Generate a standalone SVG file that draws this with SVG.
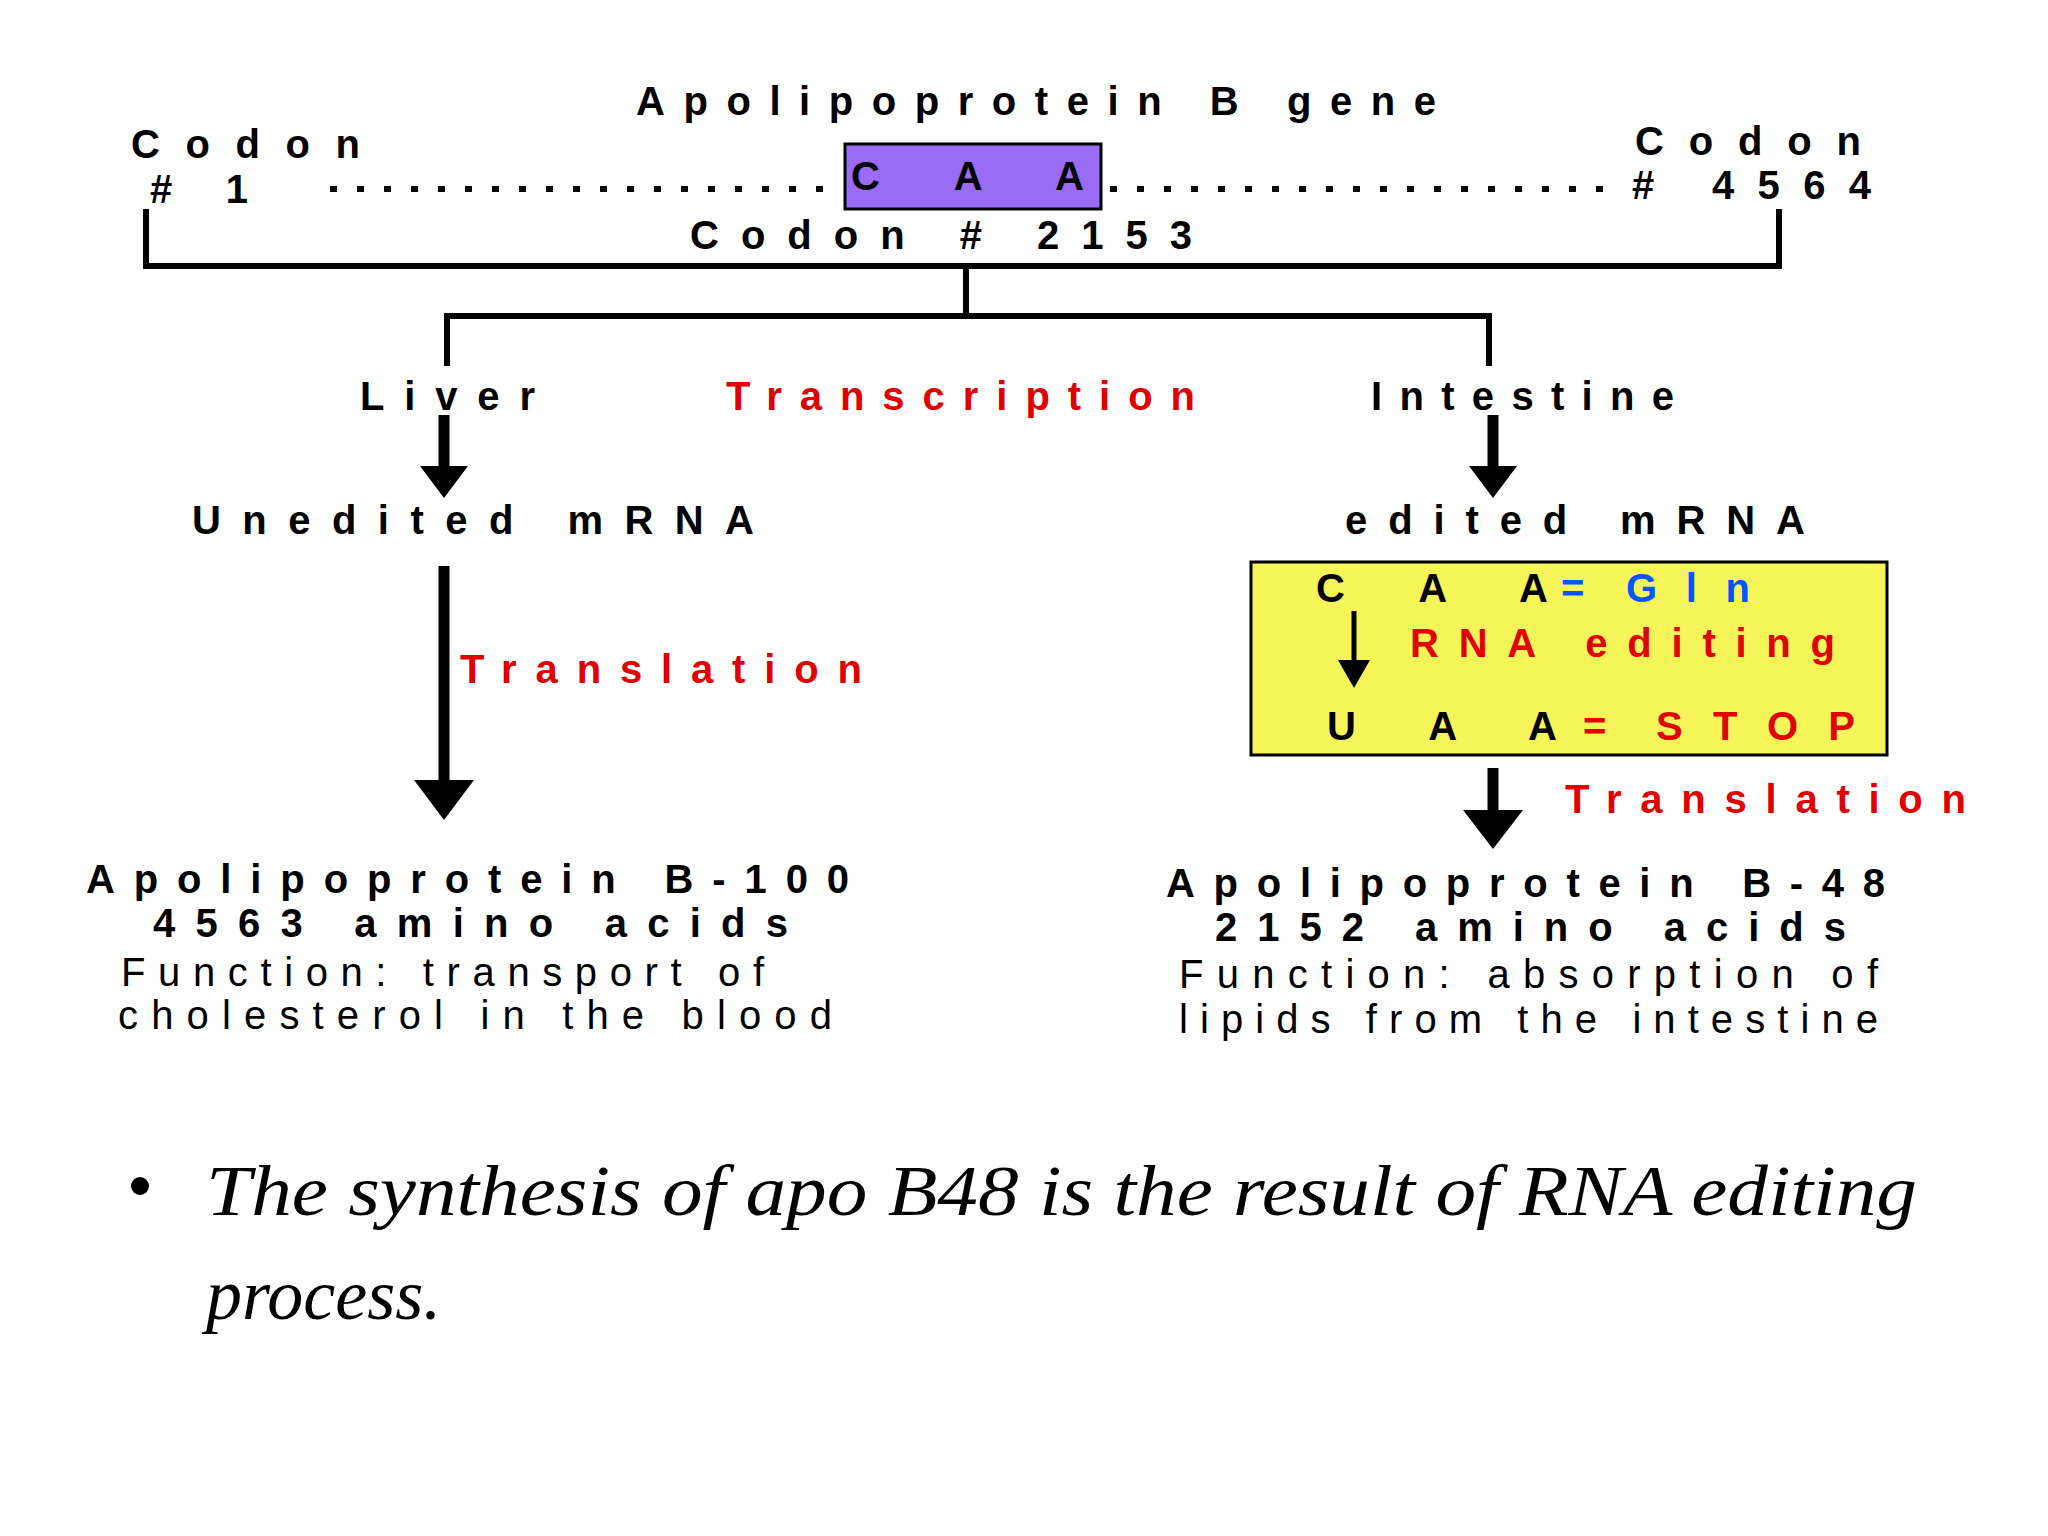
<svg xmlns="http://www.w3.org/2000/svg" width="2048" height="1536" viewBox="0 0 2048 1536">
<style>
.b{font-family:"Liberation Sans",Arial,sans-serif;font-weight:bold;font-size:40px;fill:#000}
.n{font-family:"Liberation Sans",Arial,sans-serif;font-size:40px;fill:#000}
.r{fill:#e00000}
.bl{fill:#0055ff}
.ln{stroke:#000;stroke-width:6;fill:none}
.dot{stroke:#000;stroke-width:6;stroke-dasharray:7 20;fill:none}
.sh{stroke:#000;stroke-width:11}
.it{font-family:"Liberation Serif","Times New Roman",serif;font-style:italic;font-size:72px;fill:#000}
</style>
<rect width="2048" height="1536" fill="#fff"/>
<g id="gene">
<text class="b" x="636" y="115" textLength="800" lengthAdjust="spacing">Apolipoprotein B gene</text>
<text class="b" x="131" y="158" textLength="229" lengthAdjust="spacing">Codon</text>
<text class="b" x="150" y="203" textLength="98" lengthAdjust="spacing"># 1</text>
<line class="dot" x1="330" y1="189" x2="840" y2="189"/>
<line class="dot" x1="1110" y1="189" x2="1620" y2="189"/>
<rect x="845" y="144" width="256" height="65" fill="#9a6cf5" stroke="#000" stroke-width="3"/>
<text class="b" x="851" y="190" textLength="233" lengthAdjust="spacing">C A A</text>
<text class="b" x="1635" y="155" textLength="226" lengthAdjust="spacing">Codon</text>
<text class="b" x="1632" y="199" textLength="239" lengthAdjust="spacing"># 4564</text>
<text class="b" x="690" y="249" textLength="502" lengthAdjust="spacing">Codon # 2153</text>
</g>
<g id="connectors">
<polyline class="ln" points="146,209 146,266 1779,266 1779,209"/>
<line class="ln" x1="966" y1="266" x2="966" y2="316"/>
<polyline class="ln" points="447,366 447,316 1489,316 1489,366"/>
<line class="sh" x1="444" y1="415" x2="444" y2="470"/>
<polygon points="420,466 468,466 444,498"/>
<line class="sh" x1="1493" y1="415" x2="1493" y2="470"/>
<polygon points="1469,466 1517,466 1493,498"/>
<line class="sh" x1="444" y1="566" x2="444" y2="785"/>
<polygon points="414,780 474,780 444,820"/>
<line class="sh" x1="1493" y1="768" x2="1493" y2="815"/>
<polygon points="1463,810 1523,810 1493,849"/>
</g>
<g id="labels">
<text class="b" x="360" y="410" textLength="175" lengthAdjust="spacing">Liver</text>
<text class="b r" x="726" y="410" textLength="469" lengthAdjust="spacing">Transcription</text>
<text class="b" x="1371" y="410" textLength="303" lengthAdjust="spacing">Intestine</text>
<text class="b" x="192" y="534" textLength="562" lengthAdjust="spacing">Unedited mRNA</text>
<text class="b" x="1345" y="534" textLength="460" lengthAdjust="spacing">edited mRNA</text>
<text class="b r" x="460" y="683" textLength="402" lengthAdjust="spacing">Translation</text>
<text class="b r" x="1565" y="813" textLength="401" lengthAdjust="spacing">Translation</text>
</g>
<g id="editbox">
<rect x="1251" y="562" width="636" height="193" fill="#f5f55a" stroke="#000" stroke-width="3"/>
<text class="b" x="1316" y="602" textLength="232" lengthAdjust="spacing">C A A</text>
<text class="b bl" x="1561" y="602">=</text>
<text class="b bl" x="1626" y="602" textLength="124" lengthAdjust="spacing">Gln</text>
<line stroke="#000" stroke-width="5" x1="1354" y1="611" x2="1354" y2="665"/>
<polygon points="1338,660 1370,660 1354,688"/>
<text class="b r" x="1410" y="657" textLength="425" lengthAdjust="spacing">RNA editing</text>
<text class="b" x="1327" y="740" textLength="230" lengthAdjust="spacing">U A A</text>
<text class="b r" x="1583" y="740">=</text>
<text class="b r" x="1656" y="740" textLength="199" lengthAdjust="spacing">STOP</text>
</g>
<g id="b100">
<text class="b" x="86" y="893" textLength="763" lengthAdjust="spacing">Apolipoprotein B-100</text>
<text class="b" x="153" y="937" textLength="635" lengthAdjust="spacing">4563 amino acids</text>
<text class="n" x="121" y="986" textLength="643" lengthAdjust="spacing">Function: transport of</text>
<text class="n" x="118" y="1029" textLength="714" lengthAdjust="spacing">cholesterol in the blood</text>
</g>
<g id="b48">
<text class="b" x="1166" y="897" textLength="719" lengthAdjust="spacing">Apolipoprotein B-48</text>
<text class="b" x="1215" y="941" textLength="631" lengthAdjust="spacing">2152 amino acids</text>
<text class="n" x="1179" y="988" textLength="699" lengthAdjust="spacing">Function: absorption of</text>
<text class="n" x="1179" y="1033" textLength="699" lengthAdjust="spacing">lipids from the intestine</text>
</g>
<g id="bullet">
<circle cx="140" cy="1186" r="9" fill="#000"/>
<text class="it" x="206" y="1215" textLength="1711" lengthAdjust="spacingAndGlyphs">The synthesis of apo B48 is the result of RNA editing</text>
<text class="it" x="206" y="1319">process.</text>
</g>
</svg>
